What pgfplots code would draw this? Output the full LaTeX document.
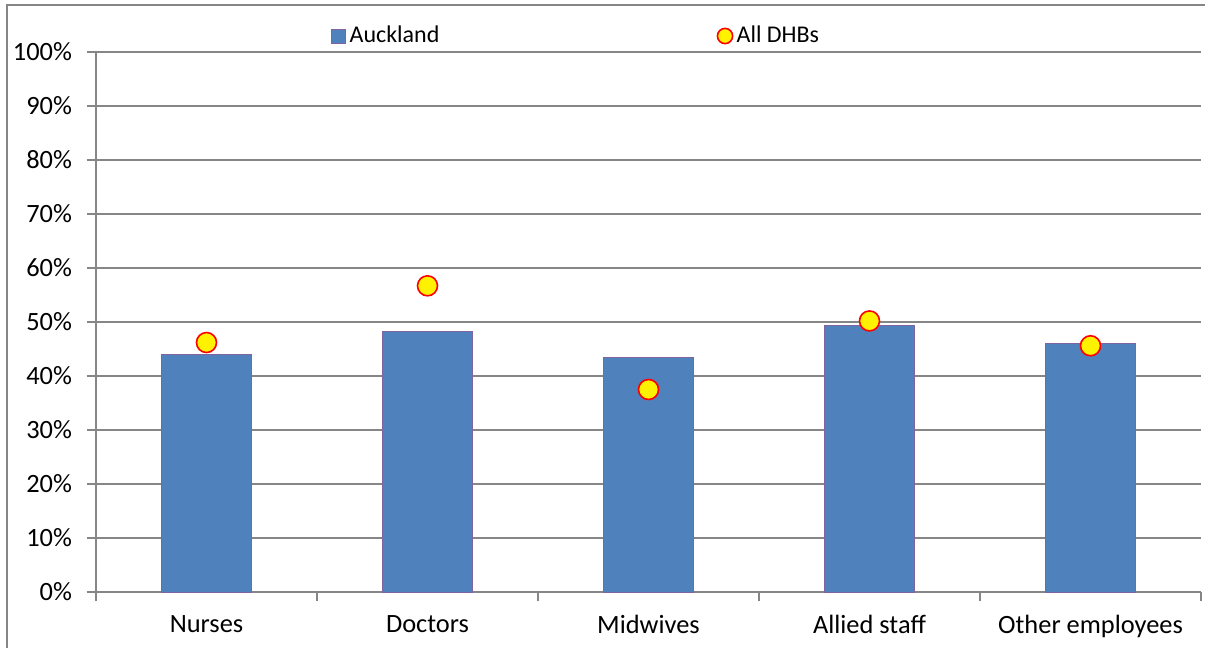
\documentclass[border=0pt]{standalone}
\usepackage{fontspec}
\setmainfont{Carlito}
\usepackage{pgfplots}
\pgfplotsset{compat=1.18}
\definecolor{barblue}{RGB}{79,129,189}
\definecolor{baredge}{RGB}{128,100,162}
\definecolor{gridgray}{RGB}{134,134,134}
\pgfplotsset{
    squarelegend/.style={legend image code/.code={\draw[#1] (0pt,-3.5pt) rectangle (7pt,3.5pt);}},
    dotlegend/.style={legend image code/.code={\draw[#1, mark size=3.8pt] plot coordinates {(4pt,0pt)};}},
}
\begin{document}
\begin{tikzpicture}
\path[use as bounding box] (-48pt,-28pt) rectangle (554.5pt,296pt);
\begin{axis}[
    at={(0,0)}, anchor=south west,
    scale only axis,
    width=552.5pt, height=270pt,
    xmin=-0.5, xmax=4.5,
    ymin=0, ymax=100,
    axis lines=left,
    axis line style={-, draw=gridgray, line width=0.9pt},
    ytick={0,10,...,100},
    yticklabels={0\%,10\%,20\%,30\%,40\%,50\%,60\%,70\%,80\%,90\%,100\%},
    ymajorgrids,
    grid style={draw=gridgray, line width=0.9pt},
    tick style={draw=gridgray, line width=0.9pt},
    tick align=outside,
    major tick length=4.5pt,
    xtick={-0.5,0.5,...,4.5},
    xticklabels={},
    extra x ticks={0,1,2,3,4},
    extra x tick labels={Nurses,Doctors,Midwives,Allied staff,Other employees},
    extra x tick style={major tick length=0pt, grid=none, tick label style={yshift=-8pt}},
    yticklabel style={xshift=-4pt},
    tick label style={font=\fontsize{13.2}{15}\selectfont},
    legend style={at={(0.212,1.0296)}, anchor=west, draw=none, fill=none,
        inner sep=0pt, legend columns=2,
        font=\fontsize{12}{14}\selectfont,
        /tikz/every even column/.append style={column sep=137pt}},
    clip=false,
]
\addplot[ybar, bar width=0.405, fill=barblue, draw=baredge, line width=0.5pt, squarelegend]
    coordinates {(0,43.9) (1,48.2) (2,43.5) (3,49.3) (4,46.0)};
\addlegendentry{Auckland}
\addplot[only marks, mark=*, mark size=5pt,
    mark options={fill=yellow, draw=red, line width=0.8pt}, dotlegend]
    coordinates {(0,46.2) (1,56.7) (2,37.5) (3,50.2) (4,45.6)};
\addlegendentry{All DHBs}
\end{axis}
\draw[gridgray, line width=1pt] (-44.5pt,-28pt) -- (-44.5pt,293.5pt) -- (554.5pt,293.5pt);
\end{tikzpicture}
\end{document}
